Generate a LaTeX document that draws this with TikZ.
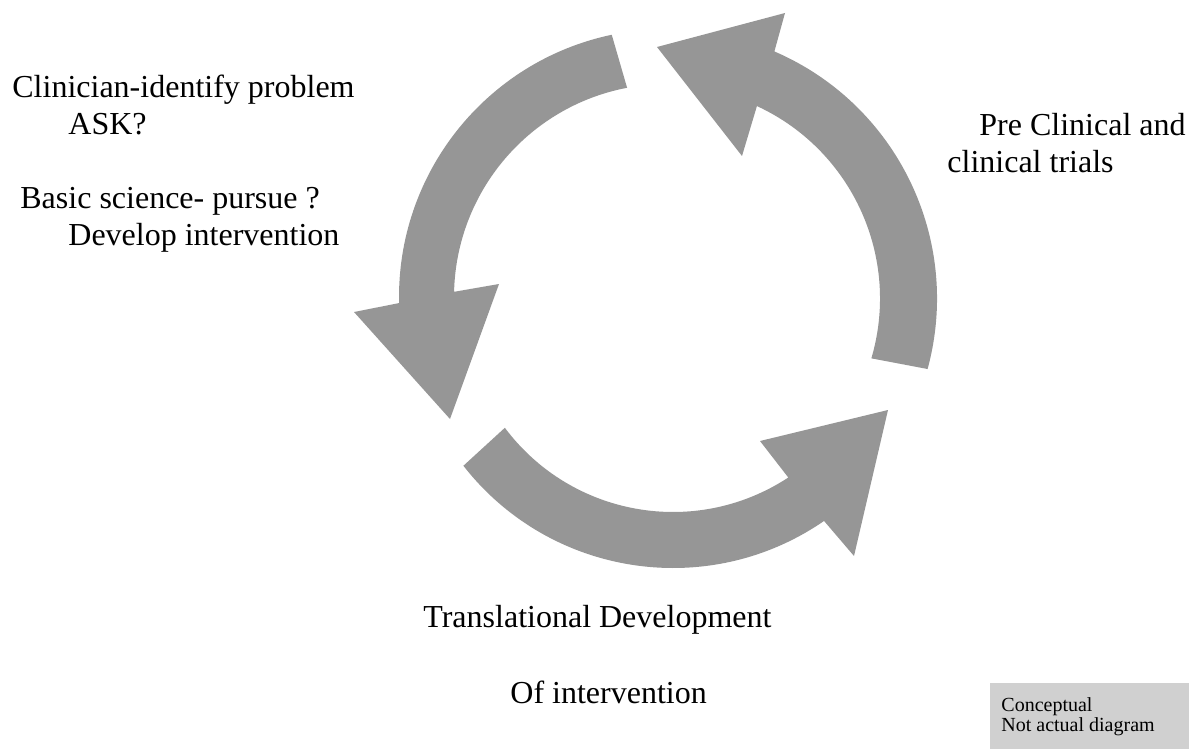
\documentclass[tikz,border=0pt]{standalone}
\usepackage{fontspec}
\setmainfont{Liberation Serif}
\usetikzlibrary{calc}
\definecolor{arrowgray}{RGB}{150,150,150}
\definecolor{boxgray}{RGB}{208,208,208}
\begin{document}
\begin{tikzpicture}[x=0.5pt,y=-0.5pt,
  cyclearrow/.style={fill=arrowgray,draw=none},
  bigtext/.style={anchor=base west,inner sep=0pt,font=\fontsize{16}{18.4}\selectfont},
  smalltext/.style={anchor=base west,inner sep=0pt,font=\fontsize{10}{11}\selectfont}]
\useasboundingbox (0,0) rectangle (1189,749);
\coordinate (cl) at (667,297);
\coordinate (cr) at (668,298.5);
\coordinate (cb) at (673,302);
% left arrow (top to left)
\fill[cyclearrow] ($(cl)+(-101.9:268)$) arc[start angle=-101.9,end angle=-181.3,radius=268]
  -- (354,312) -- (450,419) -- (499,284)
  -- ($(cl)+(-178.6:213)$) arc[start angle=-178.6,end angle=-100.8,radius=213] -- cycle;
% right arrow (bottom right up to top)
\fill[cyclearrow] ($(cr)+(15.2:269)$) arc[start angle=15.2,end angle=-66.7,radius=269]
  -- (785,13) -- (657,47) -- (742,156)
  -- ($(cr)+(-65.2:212)$) arc[start angle=-65.2,end angle=16.4,radius=212] -- cycle;
% bottom arrow (left to right)
\fill[cyclearrow] ($(cb)+(142:266)$) arc[start angle=142,end angle=55.4,radius=266]
  -- (854,556) -- (888,410) -- (760,441)
  -- ($(cb)+(56.7:210)$) arc[start angle=56.7,end angle=143.2,radius=210] -- cycle;
% texts
\node[bigtext] (l1) at (12,98) {Clinician-identify problem};
\node[bigtext] (l2) at (68,134) {ASK?};
\node[bigtext] (l3) at (20,208) {Basic science- pursue ?};
\node[bigtext] (l4) at (68,245) {Develop intervention};
\node[bigtext] (r1) at (979,135) {Pre Clinical and};
\node[bigtext] (r2) at (947,172) {clinical trials};
\node[bigtext] (b1) at (423,627) {Translational Development};
\node[bigtext] (b2) at (510,703) {Of intervention};
% note box
\fill[boxgray] (990,683) rectangle (1189,749);
\node[smalltext] (n1) at (1001,711) {Conceptual};
\node[smalltext] (n2) at (1001,731) {Not actual diagram};
\end{tikzpicture}
\end{document}
